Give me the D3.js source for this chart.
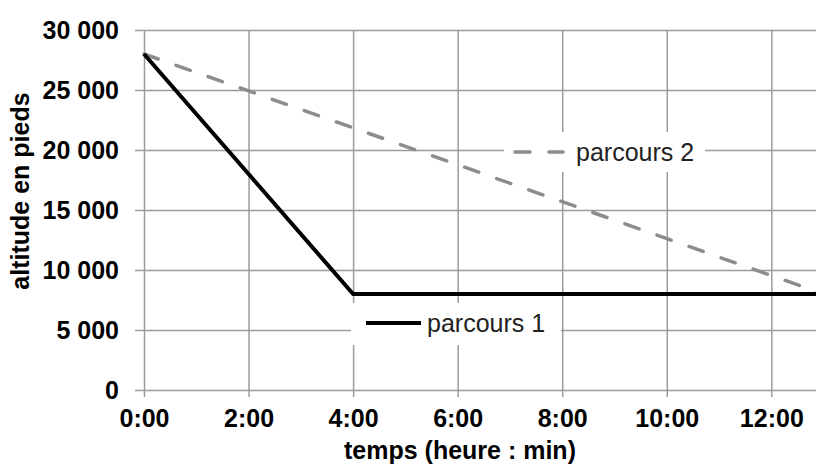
<!DOCTYPE html>
<html>
<head>
<meta charset="utf-8">
<script src="https://cdn.jsdelivr.net/npm/d3@7"></script>
<style>
    body { margin: 0; background: #fff; }
    svg { display: block; font-family: "Liberation Sans", Arial, sans-serif; }
</style>
</head>
<body>
<div id="chart-container"></div>
<script>
// Data (hours, feet)
const hours1 = [0, 4, 13];
const alt1 = [28000, 8000, 8000];
const hours2 = [0, 13];
const alt2 = [28000, 8000];
const xTicks = [0, 2, 4, 6, 8, 10, 12];
const yTicks = [0, 5000, 10000, 15000, 20000, 25000, 30000];
const seriesNames = ["parcours 1", "parcours 2"];

const W = 816, H = 466;
const x0 = 144, xEnd = 823.6, yTop = 30, yBot = 390;

const svg = d3
    .select("#chart-container")
    .append("svg")
    .attr("width", W)
    .attr("height", H);

const xScale = d3.scaleLinear().domain([0, 13]).range([x0, xEnd]);
const yScale = d3.scaleLinear().domain([0, 30000]).range([yBot, yTop]);

const fr = d3.formatLocale({ decimal: ",", thousands: "\u00a0", grouping: [3], currency: ["", " €"] });
const yFmt = fr.format(",");

const gridColor = "#9c9c9c";

// Horizontal gridlines + y labels
const yAxis = d3.axisLeft(yScale)
    .tickValues(yTicks)
    .tickFormat(yFmt)
    .tickSize(-(xEnd - x0))
    .tickPadding(0);

const gy = svg.append("g")
    .attr("transform", "translate(" + x0 + ",0)")
    .call(yAxis);
gy.select(".domain").remove();
gy.selectAll(".tick line")
    .attr("x1", -9)
    .attr("stroke", gridColor)
    .attr("stroke-width", 1.5);
gy.selectAll(".tick text")
    .attr("x", -25)
    .attr("dy", "0.32em")
    .attr("font-size", 25)
    .attr("font-weight", "bold")
    .attr("fill", "#000")
    .attr("font-family", "Liberation Sans, Arial, sans-serif");

// Vertical gridlines + x labels
const xAxis = d3.axisBottom(xScale)
    .tickValues(xTicks)
    .tickFormat((d) => d + ":00")
    .tickSize(-(yBot - yTop))
    .tickPadding(0);

const gx = svg.append("g")
    .attr("transform", "translate(0," + yBot + ")")
    .call(xAxis);
gx.select(".domain").remove();
gx.selectAll(".tick line")
    .attr("y1", 7)
    .attr("stroke", gridColor)
    .attr("stroke-width", 1.5);
gx.selectAll(".tick text")
    .attr("y", 37)
    .attr("dy", 0)
    .attr("font-size", 25)
    .attr("font-weight", "bold")
    .attr("fill", "#000")
    .attr("font-family", "Liberation Sans, Arial, sans-serif");

// Axis titles
svg.append("text")
    .attr("x", 460)
    .attr("y", 459)
    .attr("text-anchor", "middle")
    .attr("font-size", 25)
    .attr("font-weight", "bold")
    .text("temps (heure : min)");

svg.append("text")
    .attr("transform", "translate(29,191) rotate(-90)")
    .attr("text-anchor", "middle")
    .attr("font-size", 25)
    .attr("font-weight", "bold")
    .text("altitude en pieds");

// Lines
const line = d3.line()
    .x((d) => xScale(d[0]))
    .y((d) => yScale(d[1]));

svg.append("path")
    .datum(hours2.map((h, i) => [h, alt2[i]]))
    .attr("d", line)
    .attr("fill", "none")
    .attr("stroke", "#8c8c8c")
    .attr("stroke-width", 3.5)
    .attr("stroke-linecap", "round")
    .attr("stroke-dasharray", "15,19");

svg.append("path")
    .datum(hours1.map((h, i) => [h, alt1[i]]))
    .attr("d", line)
    .attr("fill", "none")
    .attr("stroke", "#000")
    .attr("stroke-width", 4)
    .attr("stroke-linejoin", "miter");

// Inline legends with white boxes
const legends = [
    { name: seriesNames[0], box: [351, 303, 210, 42], lx: [366, 421], ly: 323, dash: null, color: "#000" },
    { name: seriesNames[1], box: [504, 132, 201, 40], lx: [515, 563], ly: 152, dash: "15,19", color: "#8c8c8c" },
];

legends.forEach((l) => {
    svg.append("rect")
        .attr("x", l.box[0])
        .attr("y", l.box[1])
        .attr("width", l.box[2])
        .attr("height", l.box[3])
        .attr("fill", "#fff");
    svg.append("line")
        .attr("x1", l.lx[0])
        .attr("x2", l.lx[1])
        .attr("y1", l.ly)
        .attr("y2", l.ly)
        .attr("stroke", l.color)
        .attr("stroke-width", l.dash ? 3.5 : 4)
        .attr("stroke-linecap", l.dash ? "round" : "butt")
        .attr("stroke-dasharray", l.dash);
    svg.append("text")
        .attr("x", l.lx[1] + (l.dash ? 13 : 6))
        .attr("y", l.ly + 9)
        .attr("font-size", 25)
        .attr("fill", "#222")
        .text(l.name);
});
</script>
</body>
</html>
